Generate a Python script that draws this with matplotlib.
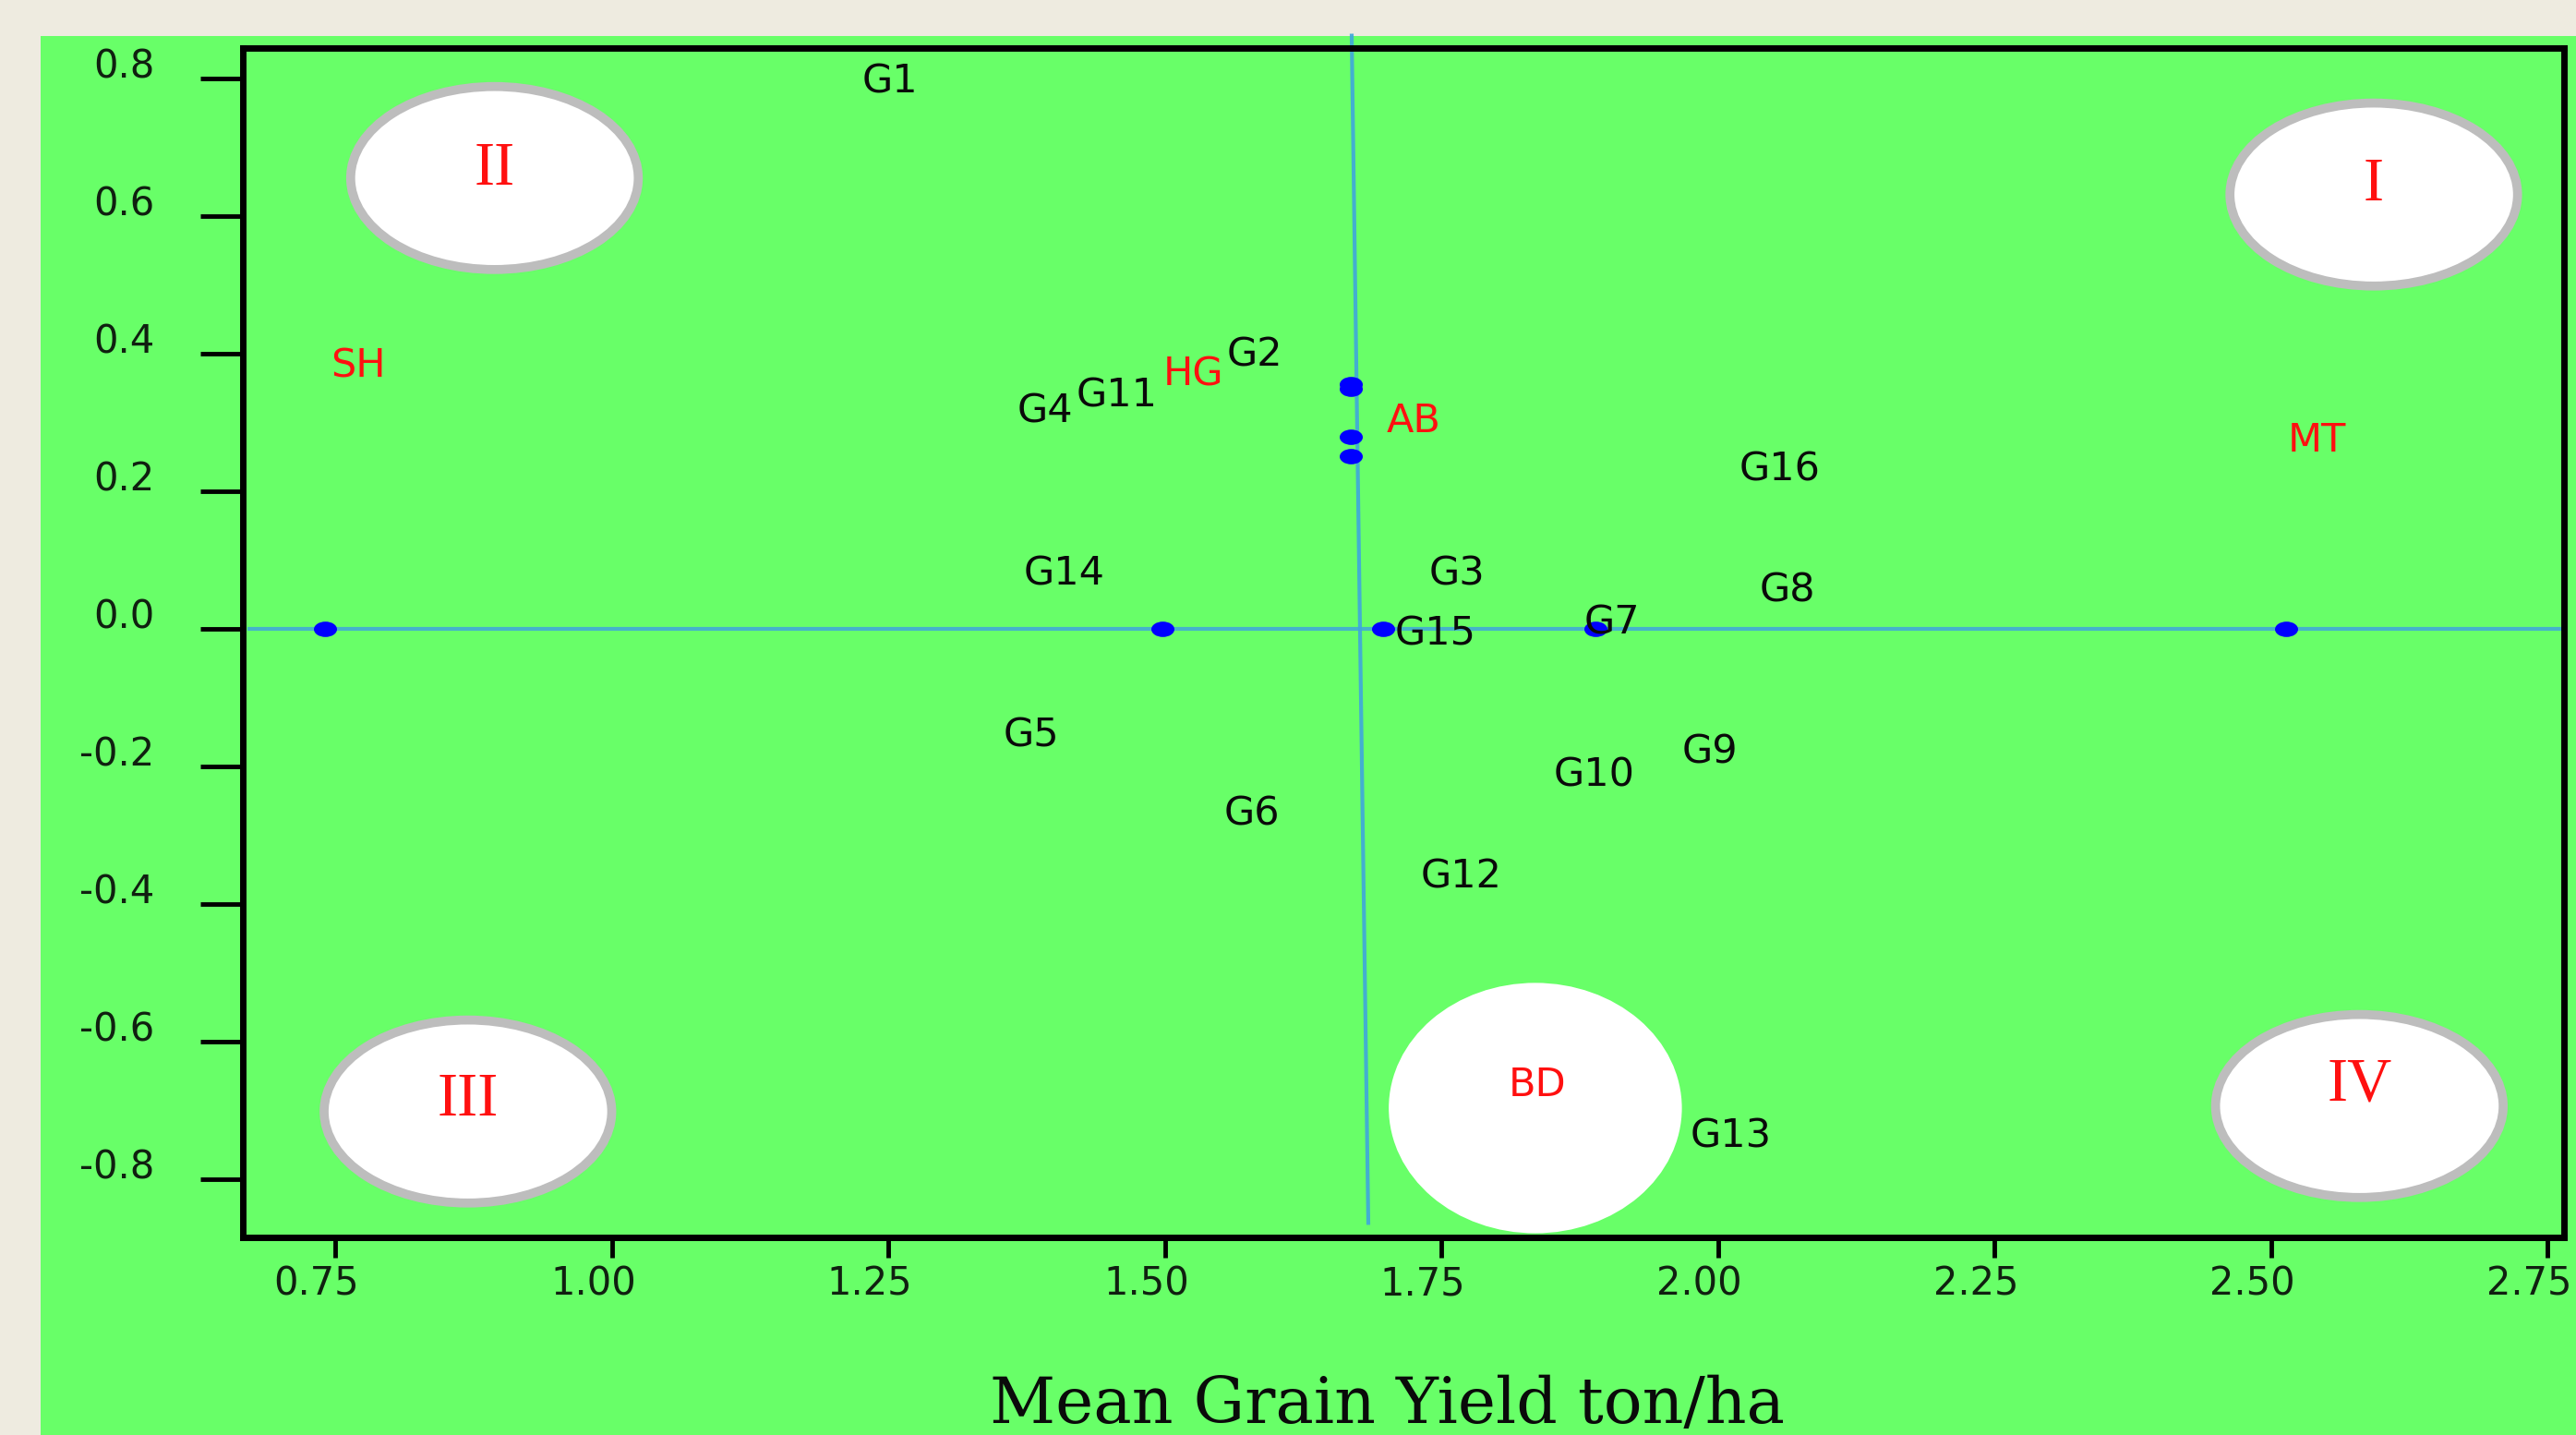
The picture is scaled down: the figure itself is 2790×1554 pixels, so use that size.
import matplotlib
matplotlib.use("Agg")
import matplotlib.pyplot as plt
from matplotlib.patches import Ellipse, Rectangle
from matplotlib.path import Path
from matplotlib.transforms import Affine2D, ScaledTranslation

# genotype labels: mean grain yield (ton/ha) vs IPCA1 score
genotypes = ["G1", "G2", "G3", "G4", "G5", "G6", "G7", "G8",
             "G9", "G10", "G11", "G12", "G13", "G14", "G15", "G16"]
geno_x = [1.252, 1.581, 1.764, 1.392, 1.379, 1.579, 1.904, 2.063,
          1.993, 1.888, 1.457, 1.768, 2.012, 1.409, 1.745, 2.056]
geno_y = [0.795, 0.397, 0.080, 0.316, -0.156, -0.270, 0.009, 0.055,
          -0.180, -0.213, 0.338, -0.361, -0.738, 0.079, -0.008, 0.231]

# environment labels
envs = ["SH", "HG", "AB", "MT", "BD"]
env_x = [0.771, 1.526, 1.725, 2.542, 1.837]
env_y = [0.381, 0.370, 0.302, 0.274, -0.664]

# blue points
pt_x = [0.741, 1.498, 1.697, 1.889, 2.514, 1.668, 1.668, 1.668, 1.668]
pt_y = [0.0, 0.0, 0.0, 0.0, 0.0, 0.356, 0.348, 0.279, 0.250]

# quadrant markers
quads = ["I", "II", "III", "IV"]
quad_x = [2.593, 0.894, 0.870, 2.580]
quad_y = [0.631, 0.655, -0.702, -0.694]
quad_text_y = [0.644, 0.668, -0.686, -0.664]

xticks = [0.75, 1.00, 1.25, 1.50, 1.75, 2.00, 2.25, 2.50, 2.75]
xtick_labels = ["0.75", "1.00", "1.25", "1.50", "1.75", "2.00", "2.25", "2.50", "2.75"]
yticks = [0.8, 0.6, 0.4, 0.2, 0.0, -0.2, -0.4, -0.6, -0.8]
ytick_labels = ["0.8", "0.6", "0.4", "0.2", "0.0", "-0.2", "-0.4", "-0.6", "-0.8"]

GREEN = "#68ff68"
BEIGE = "#eeebe0"
LINE_BLUE = "#3fa6dc"

W, H = 2790, 1554
fig = plt.figure(figsize=(W / 100, H / 100), dpi=100, facecolor=BEIGE)
fig.add_artist(Rectangle((44 / W, 0), 1, 1 - 39 / H, transform=fig.transFigure,
                         facecolor=GREEN, edgecolor="none", zorder=0))

ax = fig.add_axes([263 / W, 1 - 1340 / H, (2777 - 263) / W, (1340 - 52) / H])
ax.set_facecolor(GREEN)
ax.set_xlim(0.6665, 2.765)
ax.set_ylim(-0.885, 0.844)

for s in ax.spines.values():
    s.set_linewidth(5)
    s.set_color("black")

# reference lines
ax.plot([0.672, 2.765], [0.0, 0.0], color=LINE_BLUE, lw=3, alpha=0.85, zorder=2)
ax.plot([1.669, 1.684], [0.862, -0.864], color=LINE_BLUE, lw=3, alpha=0.9,
        zorder=2, clip_on=False)

# quadrant ellipses
for qx, qy in zip(quad_x, quad_y):
    ax.add_patch(Ellipse((qx, qy), 0.260, 0.266, facecolor="white",
                         edgecolor="#bdbdbd", lw=7, zorder=3))
for q, qx, qy in zip(quads, quad_x, quad_text_y):
    ax.text(qx, qy, q, color="#ff1010", fontsize=48, family="Liberation Serif",
            ha="center", va="center", zorder=5)

# BD ellipse (no outline)
ax.add_patch(Ellipse((1.835, -0.697), 0.265, 0.364, facecolor="white",
                     edgecolor="none", zorder=3))

# points
oval = Path.unit_circle().transformed(Affine2D().scale(1.5, 1.0))
ax.plot(pt_x, pt_y, linestyle="none", marker=oval, markersize=18,
        color="#0000ff", markeredgewidth=0, zorder=6)

for g, x, y in zip(genotypes, geno_x, geno_y):
    ax.text(x, y, g, color="#0a0a0a", fontsize=31, ha="center", va="center", zorder=7)
for e, x, y in zip(envs, env_x, env_y):
    ax.text(x, y, e, color="#ff1010", fontsize=31, ha="center", va="center", zorder=7)

# ticks
ax.set_xticks(xticks)
ax.set_xticklabels(xtick_labels)
ax.set_yticks(yticks)
ax.set_yticklabels(ytick_labels)
ax.tick_params(axis="y", length=33, width=3.5, pad=36, labelsize=30,
               labelcolor="#102010")
ax.tick_params(axis="x", length=16, width=3.5, pad=5, labelsize=30,
               labelcolor="#102010")

for lab in ax.get_yticklabels():
    lab.set_transform(lab.get_transform() + ScaledTranslation(0, 0.17, fig.dpi_scale_trans))
for lab in ax.get_xticklabels():
    lab.set_transform(lab.get_transform() + ScaledTranslation(-0.20, 0, fig.dpi_scale_trans))

fig.text(1502 / W, 1 - 1541 / H, "Mean Grain Yield ton/ha", family="DejaVu Serif",
         fontsize=50, ha="center", va="baseline", color="#0a0a0a")

fig.savefig("out.png", dpi=100, facecolor=fig.get_facecolor())
